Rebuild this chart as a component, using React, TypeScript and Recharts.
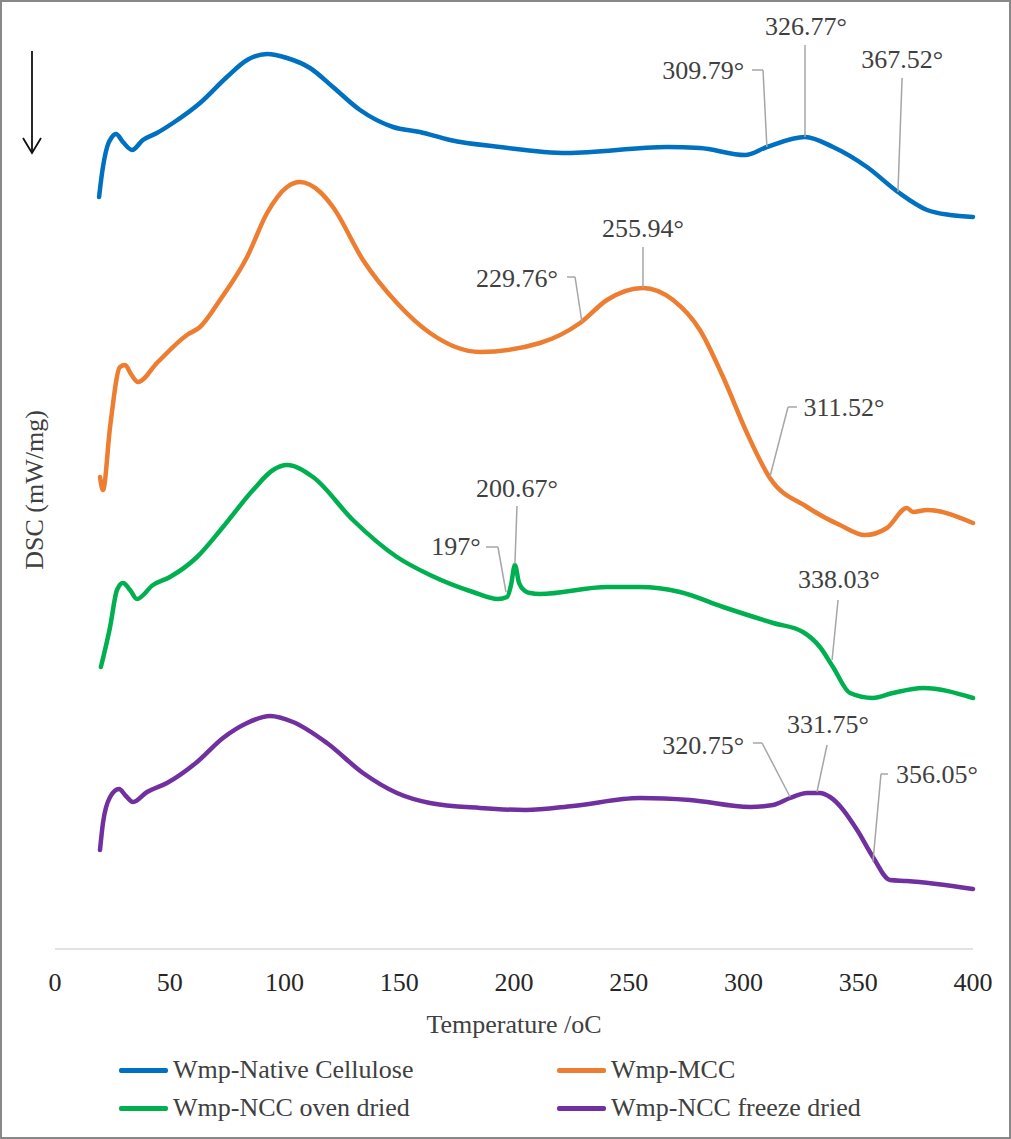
import {
  Line,
  LineChart,
  ReferenceDot,
  ReferenceLine,
  XAxis,
  YAxis,
  Label,
} from "recharts";

// DSC traces, [temperature °C, signal (offset, arbitrary units)]
const nativeCellulose: [number, number][] = [
  [19.2, 7.52], [20.5, 7.76], [22.7, 8.02], [24.8, 8.12], [26.6, 8.15], [29.6, 8.07],
  [33.6, 7.99], [38.3, 8.09], [44.4, 8.16], [51.4, 8.26], [63.2, 8.46], [74.9, 8.72],
  [83.7, 8.89], [92.4, 8.95], [101.1, 8.91], [111.1, 8.81], [121.1, 8.62], [132.9, 8.39],
  [147.3, 8.22], [159.0, 8.17], [172.1, 8.09], [193.9, 8.02], [223.1, 7.96], [266.7, 8.02],
  [281.0, 8.01], [300.7, 7.94], [310.2, 8.02], [326.8, 8.12], [339.0, 8.02], [353.8, 7.82],
  [367.3, 7.57], [380.0, 7.39], [390.0, 7.34], [400.0, 7.32],
];

const mcc: [number, number][] = [
  [19.6, 4.72], [20.9, 4.59], [24.0, 5.22], [28.3, 5.82], [30.5, 5.84], [33.1, 5.75],
  [36.2, 5.67], [44.4, 5.86], [57.5, 6.14], [63.2, 6.22], [71.9, 6.49], [83.7, 6.92],
  [92.4, 7.36], [101.1, 7.62], [106.8, 7.67], [115.5, 7.57], [121.1, 7.42], [134.2, 6.89],
  [149.0, 6.46], [163.4, 6.16], [185.2, 5.97], [211.3, 6.06], [228.8, 6.26], [240.5, 6.49],
  [256.2, 6.61], [269.3, 6.49], [281.0, 6.19], [291.1, 5.72], [301.5, 5.16], [311.5, 4.71],
  [327.7, 4.42], [342.0, 4.24], [352.9, 4.14], [362.5, 4.21], [371.2, 4.41], [373.9, 4.37],
  [379.9, 4.39], [400.0, 4.26],
];

const nccOven: [number, number][] = [
  [20.0, 2.82], [24.0, 3.22], [27.0, 3.59], [29.6, 3.66], [32.7, 3.59], [35.7, 3.5],
  [42.7, 3.64], [50.1, 3.72], [61.9, 3.92], [73.2, 4.22], [86.3, 4.59], [95.0, 4.79],
  [101.1, 4.84], [112.4, 4.72], [129.8, 4.29], [149.0, 3.92], [163.4, 3.74], [182.1, 3.57],
  [193.0, 3.5], [197.0, 3.52], [198.7, 3.64], [200.4, 3.84], [202.2, 3.66], [204.8, 3.58],
  [207.0, 3.56], [211.3, 3.55], [240.5, 3.62], [254.9, 3.62], [272.3, 3.57], [291.1, 3.42],
  [312.9, 3.26], [325.9, 3.17], [333.3, 3.02], [339.0, 2.82], [346.4, 2.56], [356.4, 2.51],
  [365.1, 2.56], [378.2, 2.61], [400.0, 2.51],
];

const nccFreeze: [number, number][] = [
  [19.6, 0.99], [20.9, 1.26], [24.0, 1.52], [27.9, 1.6], [30.9, 1.53], [34.0, 1.47],
  [40.1, 1.57], [48.8, 1.66], [61.9, 1.87], [73.2, 2.11], [83.7, 2.26], [93.7, 2.33],
  [103.7, 2.27], [118.5, 2.06], [134.2, 1.76], [149.0, 1.56], [163.4, 1.46], [185.2, 1.41],
  [205.0, 1.39], [225.7, 1.43], [254.9, 1.51], [276.7, 1.49], [302.8, 1.42], [312.9, 1.44],
  [320.3, 1.51], [327.7, 1.56], [333.3, 1.56], [337.7, 1.52], [349.5, 1.19], [356.4, 0.92],
  [363.8, 0.69], [371.2, 0.68], [400.0, 0.6],
];

const xTicks = [0, 50, 100, 150, 200, 250, 300, 350, 400];

const series = [
  { name: "Wmp-Native Cellulose", color: "#0070C0", points: nativeCellulose },
  { name: "Wmp-MCC", color: "#ED7D31", points: mcc },
  { name: "Wmp-NCC oven dried", color: "#00B050", points: nccOven },
  { name: "Wmp-NCC freeze dried", color: "#7030A0", points: nccFreeze },
];

// peak callouts: label anchor + leader polyline, in chart units
const callouts: { text: string; at: [number, number]; leader: [number, number][] }[] = [
  { text: "309.79°", at: [282.4, 8.7], leader: [[303.7, 8.79], [308.5, 8.79], [310.2, 8.02]] },
  { text: "326.77°", at: [327.2, 9.14], leader: [[326.8, 9.04], [326.8, 8.12]] },
  { text: "367.52°", at: [369.1, 8.81], leader: [[369.1, 8.71], [367.3, 7.57]] },
  { text: "229.76°", at: [201.3, 6.62], leader: [[223.1, 6.72], [226.6, 6.72], [229.6, 6.27]] },
  { text: "255.94°", at: [256.2, 7.12], leader: [[256.2, 7.02], [256.2, 6.61]] },
  { text: "311.52°", at: [343.8, 5.33], leader: [[323.3, 5.42], [319.4, 5.42], [311.5, 4.72]] },
  { text: "197°", at: [174.7, 3.94], leader: [[187.8, 4.02], [193.0, 4.02], [196.5, 3.57]] },
  { text: "200.67°", at: [201.3, 4.52], leader: [[201.3, 4.43], [200.4, 3.85]] },
  { text: "338.03°", at: [341.6, 3.61], leader: [[341.2, 3.49], [338.6, 2.89]] },
  { text: "320.75°", at: [282.4, 1.95], leader: [[304.1, 2.06], [308.1, 2.06], [320.3, 1.52]] },
  { text: "331.75°", at: [336.8, 2.16], leader: [[336.4, 2.04], [332.0, 1.57]] },
  { text: "356.05°", at: [384.3, 1.66], leader: [[363.0, 1.75], [359.9, 1.75], [356.4, 0.87]] },
];

const FONT = '"Liberation Serif", "Times New Roman", serif';
const W = 1011;
const H = 1139;

export default function App() {
  return (
    <div
      style={{
        position: "absolute",
        left: 0,
        top: 0,
        width: W,
        height: H,
        background: "#fff",
        fontFamily: FONT,
      }}
    >
      <LineChart
        width={W}
        height={H}
        margin={{ top: 9, right: 38, bottom: 100, left: 55 }}
        style={{ fontFamily: FONT }}
      >
        <XAxis
          type="number"
          dataKey="t"
          domain={[0, 400]}
          ticks={xTicks}
          tickLine={false}
          tickMargin={18}
          height={90}
          axisLine={{ stroke: "#d9d9d9", strokeWidth: 1.5 }}
          tick={{ fontSize: 26, fill: "#262626", style: { fontFamily: FONT } }}
          interval={0}
        >
          <Label
            value="Temperature /oC"
            position="insideBottom"
            offset={6}
            style={{ fontSize: 26, fill: "#404040", fontFamily: FONT }}
          />
        </XAxis>
        <YAxis type="number" domain={[0, 9.4]} hide allowDataOverflow />
        {series.map((s) => (
          <Line
            key={s.name}
            name={s.name}
            data={s.points.map(([t, v]) => ({ t, v }))}
            dataKey="v"
            type="monotone"
            stroke={s.color}
            strokeWidth={4.5}
            strokeLinecap="round"
            strokeLinejoin="round"
            dot={false}
            activeDot={false}
            isAnimationActive={false}
          />
        ))}
        {callouts.flatMap((c) =>
          c.leader.slice(1).map((p, i) => (
            <ReferenceLine
              key={`${c.text}-seg-${i}`}
              segment={[
                { x: c.leader[i][0], y: c.leader[i][1] },
                { x: p[0], y: p[1] },
              ]}
              stroke="#a6a6a6"
              strokeWidth={1.5}
              ifOverflow="visible"
            />
          )),
        )}
        {callouts.map((c) => (
          <ReferenceDot
            key={c.text}
            x={c.at[0]}
            y={c.at[1]}
            r={0}
            stroke="none"
            fill="none"
            ifOverflow="visible"
            label={(p: any) => (
              <text
                x={p.viewBox.x + (p.viewBox.width || 0) / 2}
                y={p.viewBox.y + (p.viewBox.height || 0) / 2}
                textAnchor="middle"
                fill="#404040"
                style={{ fontSize: 26, fontFamily: FONT }}
              >
                {c.text}
              </text>
            )}
          />
        ))}
      </LineChart>

      {/* y label + direction arrow */}
      <svg width={80} height={700} style={{ position: "absolute", left: 0, top: 0 }}>
        <line x1={32} y1={51} x2={32} y2={152} stroke="#111" strokeWidth={1.8} />
        <polyline points="23,138 32,153 41,138" fill="none" stroke="#111" strokeWidth={1.8} />
        <text
          transform="translate(43,490) rotate(-90)"
          textAnchor="middle"
          fill="#404040"
          style={{ fontSize: 26, fontFamily: FONT }}
        >
          DSC (mW/mg)
        </text>
      </svg>

      {/* legend, 2 x 2 */}
      {series.map((s, i) => {
        const col = i % 2;
        const row = Math.floor(i / 2);
        return (
          <div
            key={s.name}
            style={{
              position: "absolute",
              left: col === 0 ? 119 : 557,
              top: row === 0 ? 1054 : 1092,
              height: 32,
              display: "flex",
              alignItems: "center",
              fontSize: 26,
              color: "#404040",
              whiteSpace: "nowrap",
            }}
          >
            <span
              style={{
                display: "inline-block",
                width: 49,
                height: 5,
                borderRadius: 2,
                background: s.color,
                marginRight: 5,
              }}
            />
            {s.name}
          </div>
        );
      })}

      <div
        style={{
          position: "absolute",
          left: 0,
          top: 0,
          width: W,
          height: H,
          boxSizing: "border-box",
          border: "2px solid #888",
          pointerEvents: "none",
        }}
      />
    </div>
  );
}
